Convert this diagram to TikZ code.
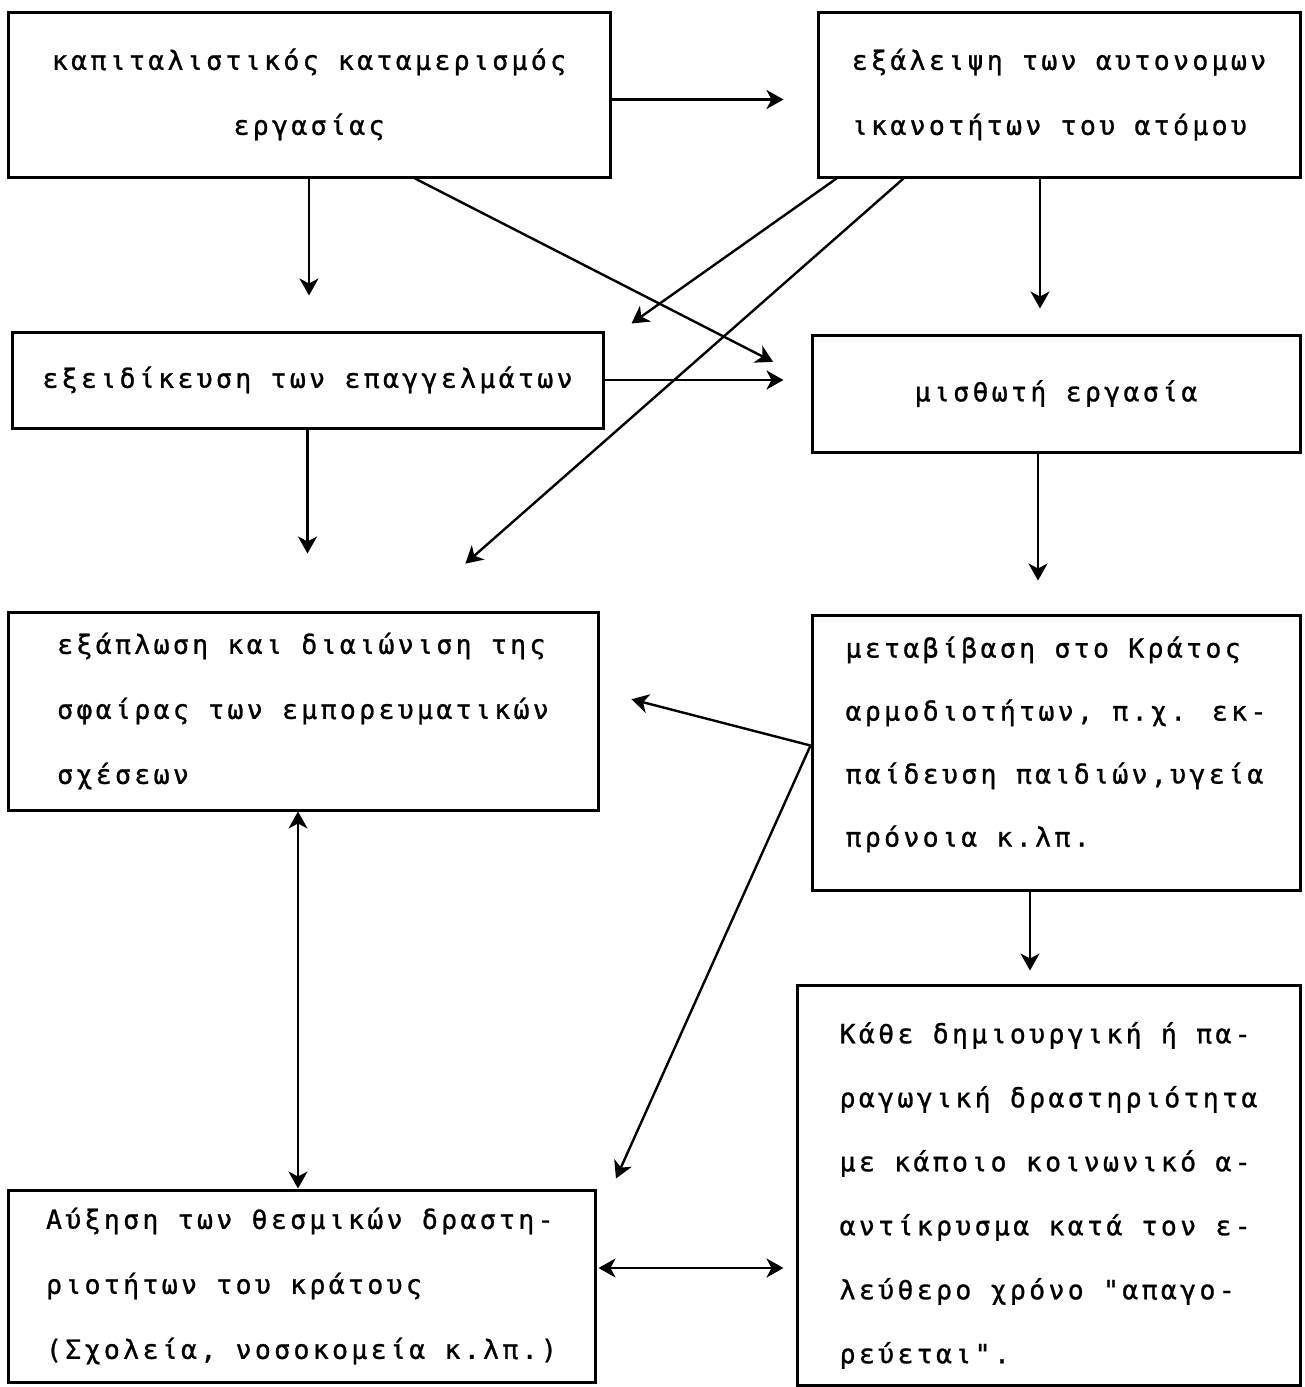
\documentclass[tikz,border=0pt]{standalone}
\usepackage{fontspec}
\newfontfamily\dotfont[LetterSpace=12.6, FakeBold=1]{DejaVu Sans Mono}
\usetikzlibrary{
    arrows.meta,
    positioning,
    calc
}
\tikzset{
    % Box style
    panel/.style={
        rectangle,
        draw=black,
        line width=3pt,
        inner sep=0pt,
        align=left,
        font=\dotfont\fontsize{26.5}{65}\selectfont
    },
    % Arrow styles
    flow/.style={
        -{Stealth[length=17pt, width=19pt, inset=5pt]},
        line width=2.4pt
    },
    twoway/.style={
        {Stealth[length=17pt, width=19pt, inset=5pt]}-{Stealth[length=17pt, width=19pt, inset=5pt]},
        line width=2.4pt
    }
}

\begin{document}
\begin{tikzpicture}[x=1pt, y=-1pt]
        \useasboundingbox (0,0) rectangle (1305,1387);

        % Boxes
        \node[panel, align=center, minimum width=602pt, minimum height=165pt] (capital) at (309, 94.5) {καπιταλιστικός καταμερισμός\\εργασίας};
        \node[panel, minimum width=482pt, minimum height=165pt] (loss) at (1059, 94.5) {εξάλειψη των αυτονομων\\ικανοτήτων του ατόμου};

        \node[panel, minimum width=591pt, minimum height=96pt] (special) at (307.5, 380) {εξειδίκευση των επαγγελμάτων};
        \node[panel, minimum width=488pt, minimum height=117pt] (wage) at (1056, 393.5) {μισθωτή εργασία};

        \node[panel, minimum width=590pt, minimum height=198pt] (market) at (303, 711) {εξάπλωση και διαιώνιση της\\σφαίρας των εμπορευματικών\\σχέσεων};
        \node[panel, font=\dotfont\fontsize{26.5}{63}\selectfont, minimum width=488pt, minimum height=275pt] (state) at (1056, 752.5) {μεταβίβαση στο Κράτος\\αρμοδιοτήτων, π.χ. εκ-\\παίδευση παιδιών,υγεία\\πρόνοια κ.λπ.\\[-41pt]\mbox{}};

        \node[panel, minimum width=587pt, minimum height=192pt] (inst) at (301.5, 1286) {Αύξηση των θεσμικών δραστη-\\ριοτήτων του κράτους\\(Σχολεία, νοσοκομεία κ.λπ.)};
        \node[panel, font=\dotfont\fontsize{26.5}{64}\selectfont, minimum width=503pt, minimum height=400pt] (ban) at (1048.5, 1185) {\rule{0pt}{42pt}Κάθε δημιουργική ή πα-\\ραγωγική δραστηριότητα\\με κάποιο κοινωνικό α-\\αντίκρυσμα κατά τον ε-\\λεύθερο χρόνο "απαγο-\\ρεύεται".};

        % Connections
        \draw[flow, shorten >=33pt] ([yshift=-5pt]capital.east) -- ([yshift=-5pt]loss.west);
        \draw[flow, shorten >=35pt] (capital.south) -- (capital.south |- special.north);
        \draw[flow, shorten >=25pt] ([xshift=-19pt]loss.south) -- ([xshift=-19pt]loss.south |- wage.north);

        \draw[flow, shorten >=42pt] ([xshift=106pt]capital.south) -- ([yshift=12.5pt]wage.west);
        \draw[flow] ([xshift=20pt]loss.south west) -- ([xshift=27pt, yshift=7pt]special.north east);
        \draw[flow, shorten >=71pt] ([xshift=87pt]loss.south west) -- ([xshift=109pt]market.north);

        \draw[flow, shorten >=27pt] (special.east) -- (special.east -| wage.west);
        \draw[flow, shorten >=57pt] (special.south) -- (special.south |- market.north);
        \draw[flow, shorten >=33pt] ([xshift=-18pt]wage.south) -- ([xshift=-18pt]wage.south |- state.north);

        \coordinate (split) at ([yshift=7pt]state.west);
        \draw[flow, shorten >=33pt] (split) -- ([yshift=20pt]market.east);
        \draw[flow, shorten >=11pt] (split) -- ([xshift=15pt]inst.north east);
        \draw[flow, shorten >=13pt] ([xshift=-26pt]state.south) -- ([xshift=-26pt]state.south |- ban.north);

        \draw[twoway] ([xshift=-5pt]market.south) -- ([xshift=-5pt]market.south |- inst.north);
        \draw[twoway, shorten >=12pt, shorten <=2pt] ([yshift=18pt]inst.east) -- ([yshift=18pt]inst.east -| ban.west);

\end{tikzpicture}
\end{document}
